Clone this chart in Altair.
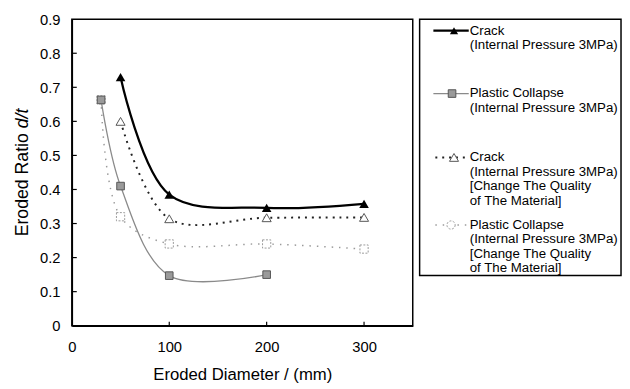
import altair as alt
import pandas as pd

# ---- data ----
crack_x = [50, 100, 200, 300]
crack_y = [0.73, 0.385, 0.346, 0.358]
pc_x = [30, 50, 100, 200]
pc_y = [0.663, 0.41, 0.147, 0.15]
cc_x = [50, 100, 200, 300]
cc_y = [0.60, 0.314, 0.317, 0.318]
pcc_x = [30, 50, 100, 200, 300]
pcc_y = [0.663, 0.32, 0.24, 0.24, 0.225]

x_ticks = [0, 100, 200, 300]
y_ticks = [0, 0.1, 0.2, 0.3, 0.4, 0.5, 0.6, 0.7, 0.8, 0.9]

legend_entries = [
    ["Crack", "(Internal Pressure 3MPa)"],
    ["Plastic Collapse", "(Internal Pressure 3MPa)"],
    ["Crack", "(Internal Pressure 3MPa)", "[Change The Quality", "of The Material]"],
    ["Plastic Collapse", "(Internal Pressure 3MPa)", "[Change The Quality", "of The Material]"],
]

FONT = "Liberation Sans"
W, H = 347, 312

xs = alt.Scale(domain=[0, 350], nice=False, zero=False)
ys = alt.Scale(domain=[0, 0.9], nice=False)
x_axis = alt.Axis(values=x_ticks, format="d", title="Eroded Diameter / (mm)",
                  titleFontSize=17, titlePadding=13, labelPadding=14,
                  labelOverlap=False, labelFlush=False)
y_axis = alt.Axis(values=y_ticks, format=".1~f", title=None, labelPadding=12,
                  labelOverlap=False, labelFlush=False, tickCount=10)


def X(f="x:Q"):
    return alt.X(f, scale=xs, axis=x_axis)


def Y(f="y:Q"):
    return alt.Y(f, scale=ys, axis=y_axis)


styles = {
    "crack": dict(line=dict(color="black", strokeWidth=2.3),
                  pt=dict(shape="triangle-up", filled=True, fill="black", color="black", size=95, opacity=1)),
    "pc": dict(line=dict(color="#8a8a8a", strokeWidth=1.3),
               pt=dict(shape="square", filled=True, fill="#9a9a9a", stroke="#555555", strokeWidth=1, size=60, opacity=1)),
    "cc": dict(line=dict(color="#222222", strokeWidth=2, strokeDash=[2, 5]),
               pt=dict(shape="triangle-up", filled=True, fill="white", stroke="#555555", strokeWidth=1, size=85, opacity=1)),
    "pcc": dict(line=dict(color="#9a9a9a", strokeWidth=1.5, strokeDash=[1.5, 6]),
                pt=dict(shape="square", filled=True, fill="white", stroke="#9a9a9a", strokeWidth=1, strokeDash=[2, 1.5], size=70, opacity=1)),
}

series = {"crack": (crack_x, crack_y), "pc": (pc_x, pc_y), "cc": (cc_x, cc_y), "pcc": (pcc_x, pcc_y)}

layers = []
# axes carrier
layers.append(alt.Chart(pd.DataFrame({"x": [0], "y": [0]})).mark_point(opacity=0).encode(x=X(), y=Y()))
# inward ticks
xt = pd.DataFrame({"x": x_ticks[1:]})
layers.append(alt.Chart(xt).mark_rule(color="black", strokeWidth=1.2).encode(
    x=X(), y=alt.value(H), y2=alt.value(H - 4)))
yt = pd.DataFrame({"y": y_ticks[1:-1]})
layers.append(alt.Chart(yt).mark_rule(color="black", strokeWidth=1.2).encode(
    y=Y(), x=alt.value(0), x2=alt.value(5)))

order = ["pcc", "pc", "cc", "crack"]
for k in order:
    sx, sy = series[k]
    df = pd.DataFrame({"x": sx, "y": sy})
    layers.append(alt.Chart(df).mark_line(interpolate="catmull-rom", **styles[k]["line"]).encode(x=X(), y=Y()))
for k in order:
    sx, sy = series[k]
    df = pd.DataFrame({"x": sx, "y": sy})
    layers.append(alt.Chart(df).mark_point(**styles[k]["pt"]).encode(x=X(), y=Y()))

# y title with italic d/t
layers.append(alt.Chart(pd.DataFrame({"t": ["Eroded Ratio "]})).mark_text(
    angle=270, align="left", baseline="middle", font=FONT, fontSize=18, color="black").encode(
    text="t:N", x=alt.value(-50), y=alt.value(221)))
layers.append(alt.Chart(pd.DataFrame({"t": ["d/t"]})).mark_text(
    angle=270, align="left", baseline="middle", font=FONT, fontSize=18, fontStyle="italic", color="black").encode(
    text="t:N", x=alt.value(-50), y=alt.value(111)))

main = alt.layer(*layers).properties(width=W, height=H)

# ---- legend panel ----
entry_top = [11.7, 75.7, 140.7, 209.5]
line_gap = 14.7
rows = []
for i, lines in enumerate(legend_entries):
    for j, t in enumerate(lines):
        rows.append({"entry": i, "text": t, "ypx": entry_top[i] + j * line_gap})
ldf = pd.DataFrame(rows)
sym = pd.DataFrame({"entry": [0, 1, 2, 3], "ypx": entry_top})
keys = ["crack", "pc", "cc", "pcc"]

leg_layers = [alt.Chart(ldf).mark_text(align="left", baseline="middle", font=FONT, fontSize=13.5, color="black").encode(
    x=alt.value(51), y=alt.Y("ypx:Q", scale=None), text="text:N")]
seg = {"crack": (14, 50), "pc": (14, 50), "cc": (16, 48), "pcc": (16, 48)}
mx = {"crack": 35, "pc": 33, "cc": 35, "pcc": 32}
for i, k in enumerate(keys):
    s = sym[sym.entry == i]
    lst = dict(styles[k]["line"])
    leg_layers.append(alt.Chart(s).mark_rule(**lst).encode(
        x=alt.value(seg[k][0]), x2=alt.value(seg[k][1]), y=alt.Y("ypx:Q", scale=None)))
    pst = dict(styles[k]["pt"])
    if k == "pcc":
        pst["shape"] = "circle"
    if k == "crack":
        pst["size"] = 70
    leg_layers.append(alt.Chart(s).mark_point(**pst).encode(
        x=alt.value(mx[k]), y=alt.Y("ypx:Q", scale=None)))

legend = alt.layer(*leg_layers).properties(width=205, height=261)

chart = alt.hconcat(main, legend, spacing=5).properties(
    padding={"left": 5, "top": 0, "right": 0, "bottom": 0}
).configure_view(stroke="black", strokeWidth=1.5).configure_axis(
    labelFont=FONT, titleFont=FONT, labelFontSize=15, labelColor="black", titleColor="black",
    titleFontWeight="normal", domainColor="black", domainWidth=1.5, ticks=False, grid=False
).configure_concat(spacing=5)

chart.save("out.html", embed_options={"renderer": "svg", "actions": False})
